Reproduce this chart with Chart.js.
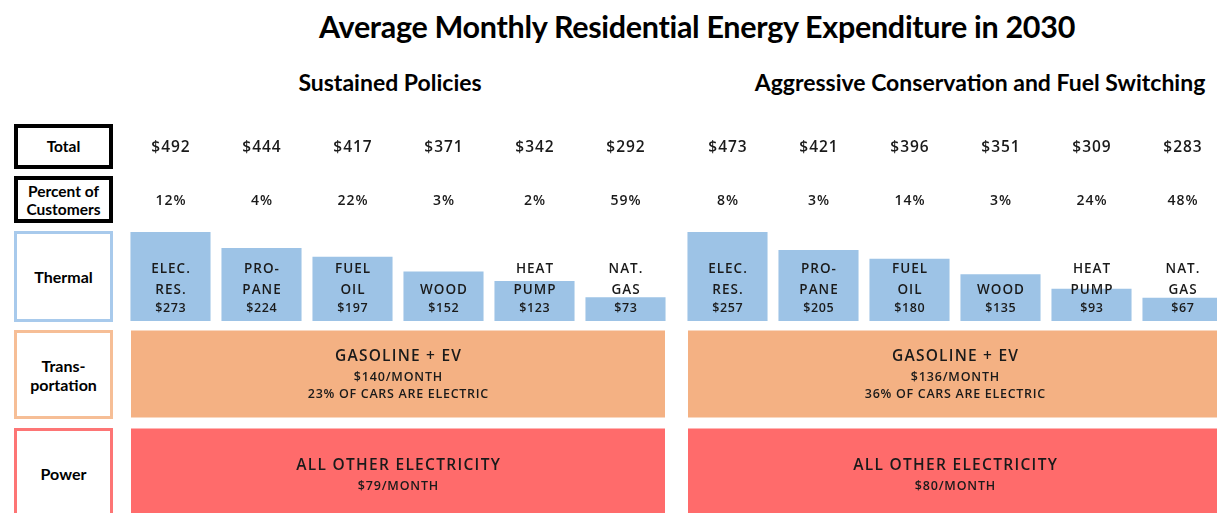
<!DOCTYPE html>
<html lang="en">
<head>
<meta charset="UTF-8">
<title>Average Monthly Residential Energy Expenditure in 2030</title>
<script src="https://cdn.jsdelivr.net/npm/chart.js"></script>
<style>
    body {
        margin: 0;
        width: 1217px;
        height: 513px;
        overflow: hidden;
        position: relative;
        background: #fff;
        font-family: Lato, sans-serif;
        color: #000;
    }
    .title {
        position: absolute;
        left: 0; width: 1394px; top: 8px;
        text-align: center;
        font-weight: bold;
        font-size: 30.5px;
        letter-spacing: -0.3px;
    }
    .sub {
        position: absolute;
        top: 68px;
        width: 600px;
        text-align: center;
        font-weight: bold;
        font-size: 23px;
    }
    .rowlab {
        position: absolute;
        left: 14px;
        width: 99px;
        box-sizing: border-box;
        display: flex;
        align-items: center;
        justify-content: center;
        text-align: center;
        font-weight: bold;
        font-size: 16px;
        line-height: 19px;
        background: #fff;
    }
    canvas { position: absolute; }
</style>
</head>
<body>
<div class="title">Average Monthly Residential Energy Expenditure in 2030</div>
<div class="sub" style="left:90px">Sustained Policies</div>
<div class="sub" style="left:680px">Aggressive Conservation and Fuel Switching</div>

<div class="rowlab" style="top:124px;height:45px;border:4px solid #000;font-size:15.5px">Total</div>
<div class="rowlab" style="top:176px;height:47px;border:4px solid #000;font-size:15.5px;line-height:18px">Percent of<br>Customers</div>
<div class="rowlab" style="top:231px;height:91px;border:3px solid #a8caec">Thermal</div>
<div class="rowlab" style="top:330px;height:89px;border:3px solid #f6be96">Trans-<br>portation</div>
<div class="rowlab" style="top:428px;height:90px;border:3px solid #fd7575">Power</div>

<canvas id="thermalL" style="left:125px;top:120px"></canvas>
<canvas id="thermalR" style="left:682px;top:120px"></canvas>
<canvas id="blocksL" style="left:131px;top:325px"></canvas>
<canvas id="blocksR" style="left:688px;top:325px"></canvas>

<script>
// heating types (label lines)
const heatTypes = [['ELEC.', 'RES.'], ['PRO-', 'PANE'], ['FUEL', 'OIL'], ['WOOD'], ['HEAT', 'PUMP'], ['NAT.', 'GAS']];

// Sustained Policies
const totalsSustained = [492, 444, 417, 371, 342, 292];
const pctSustained = [12, 4, 22, 3, 2, 59];
const thermalSustained = [273, 224, 197, 152, 123, 73];

// Aggressive Conservation and Fuel Switching
const totalsAggressive = [473, 421, 396, 351, 309, 283];
const pctAggressive = [8, 3, 14, 3, 24, 48];
const thermalAggressive = [257, 205, 180, 135, 93, 67];

// transportation and power ($/month), EV share (%)
const transportCost = [140, 136];
const evShare = [23, 36];
const powerCost = [79, 80];

const FONT = "'Open Sans', sans-serif";
const TEXT = '#1a1a1a';

function drawText(ctx, str, x, y, size, spacing) {
    ctx.font = '600 ' + size + 'px ' + FONT;
    ctx.letterSpacing = spacing + 'px';
    ctx.fillText(str, x + spacing / 2, y);
}

const thermalText = {
    id: 'thermalText',
    afterDatasetsDraw(chart, args, opts) {
        const ctx = chart.ctx;
        const meta = chart.getDatasetMeta(0);
        ctx.save();
        ctx.fillStyle = TEXT;
        ctx.textAlign = 'center';
        ctx.textBaseline = 'middle';
        meta.data.forEach((bar, i) => {
            const x = bar.x;
            drawText(ctx, '$' + opts.totals[i], x, 28, 15.5, 1);
            drawText(ctx, opts.pct[i] + '%', x, 81, 14, 1);
            const lines = heatTypes[i];
            lines.forEach((ln, k) => {
                const y = 170 - (lines.length - 1 - k) * 21;
                drawText(ctx, ln, x, y, 13.5, 1);
            });
            drawText(ctx, '$' + chart.data.datasets[0].data[i], x, 188, 12.5, 0.6);
        });
        ctx.restore();
    }
};

function makeThermal(id, values, totals, pct) {
    const el = document.getElementById(id);
    el.width = 546; el.height = 201;
    new Chart(el, {
        type: 'bar',
        data: {
            labels: heatTypes.map(l => l.join(' ')),
            datasets: [{
                data: values,
                backgroundColor: '#9dc3e6',
                barPercentage: 0.88,
                categoryPercentage: 1
            }]
        },
        options: {
            responsive: false,
            animation: false,
            layout: { padding: { top: 112, left: 0, right: 0, bottom: 0 } },
            scales: {
                x: { display: false },
                y: { display: false, min: 0, max: Math.max(...values) }
            },
            plugins: {
                legend: { display: false },
                tooltip: { enabled: false },
                thermalText: { totals: totals, pct: pct }
            }
        },
        plugins: [thermalText]
    });
}

const blockText = {
    id: 'blockText',
    afterDatasetsDraw(chart, args, opts) {
        const ctx = chart.ctx;
        ctx.save();
        ctx.fillStyle = TEXT;
        ctx.textAlign = 'center';
        ctx.textBaseline = 'middle';
        const tr = chart.getDatasetMeta(0).data[0];
        const pw = chart.getDatasetMeta(1).data[1];
        const cx = chart.chartArea.left + (chart.chartArea.right - chart.chartArea.left) / 2;
        drawText(ctx, 'GASOLINE + EV', cx, tr.y - 17, 15.5, 1.2);
        drawText(ctx, '$' + opts.transport + '/MONTH', cx, tr.y + 3, 12.5, 0.8);
        drawText(ctx, opts.ev + '% OF CARS ARE ELECTRIC', cx, tr.y + 20, 12.5, 0.7);
        drawText(ctx, 'ALL OTHER ELECTRICITY', cx, pw.y - 6, 15.5, 1.3);
        drawText(ctx, '$' + opts.power + '/MONTH', cx, pw.y + 14, 12.5, 0.8);
        ctx.restore();
    }
};

function makeBlocks(id, w, k) {
    const el = document.getElementById(id);
    el.width = w; el.height = 196;
    new Chart(el, {
        type: 'bar',
        data: {
            labels: ['Transportation', 'Power'],
            datasets: [{
                data: [transportCost[k], null],
                backgroundColor: '#f4b183',
                xAxisID: 'xTr',
                grouped: false,
                barPercentage: 0.89,
                categoryPercentage: 1
            }, {
                data: [null, powerCost[k]],
                backgroundColor: '#ff6b6b',
                xAxisID: 'xPw',
                grouped: false,
                barPercentage: 0.89,
                categoryPercentage: 1
            }]
        },
        options: {
            indexAxis: 'y',
            responsive: false,
            animation: false,
            layout: { padding: 0 },
            scales: {
                y: { display: false },
                xTr: { display: false, min: 0, max: transportCost[k] },
                xPw: { display: false, min: 0, max: powerCost[k] }
            },
            plugins: {
                legend: { display: false },
                tooltip: { enabled: false },
                blockText: { transport: transportCost[k], ev: evShare[k], power: powerCost[k] }
            }
        },
        plugins: [blockText]
    });
}

makeThermal('thermalL', thermalSustained, totalsSustained, pctSustained);
makeThermal('thermalR', thermalAggressive, totalsAggressive, pctAggressive);
makeBlocks('blocksL', 534, 0);
makeBlocks('blocksR', 534, 1);
</script>
</body>
</html>
